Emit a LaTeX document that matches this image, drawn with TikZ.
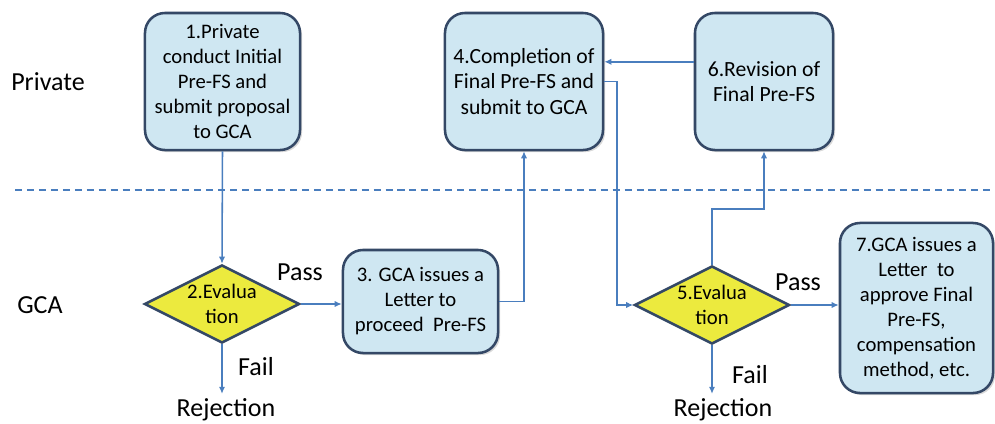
\documentclass[tikz,border=0pt]{standalone}
\usepackage{fontspec}
\setmainfont{Carlito}
\usepackage{color}
\definecolor{boxblue}{RGB}{207,231,242}
\definecolor{boxedge}{RGB}{52,72,102}
\definecolor{evalyellow}{RGB}{236,234,62}
\definecolor{flowblue}{RGB}{74,126,190}
\usepackage{tikz}
\usetikzlibrary{arrows.meta}
\usetikzlibrary{shapes.geometric}
\usetikzlibrary{shadows}
\newcommand{\widthstep}{3.875cm}
\newcommand{\heightstep}{3.425cm}
\tikzset{
    common/.style={draw=boxedge, line width=1.8pt, align=center, font=\fontsize{14.7}{17.8}\selectfont},
    stepbox/.style={common, rectangle, rounded corners=0.5cm, fill=boxblue, inner sep=2pt,
        drop shadow={shadow xshift=1.5pt, shadow yshift=-1.5pt, opacity=0.3}},
    bigstep/.style={stepbox, font=\fontsize{15.4}{18.2}\selectfont},
    evaluation/.style={common, diamond, aspect=2, fill=evalyellow, inner sep=0pt,
        minimum width=\widthstep, minimum height=1.95cm},
    lane/.style={font=\fontsize{18.5}{22}\selectfont},
    flow/.style={-{Latex[length=5pt,width=4.5pt]}, flowblue, line width=1.1pt},
    divider/.style={flowblue, line width=1.1pt, dash pattern=on 5pt off 3.5pt}
}

\begin{document}
\begin{tikzpicture}[x=0.025cm, y=-0.025cm]
                \useasboundingbox (0,0) rectangle (995,423);

                \node[lane] (private) at (48,82) {Private};
                \node[lane] (gca) at (40,305) {GCA};

                \coordinate (laneL) at (15,190);
                \coordinate (laneR) at (995,190);
                \draw[divider] (laneL) -- (laneR);

                \node[stepbox, minimum width=\widthstep, minimum height=\heightstep] (b1) at (222.5,81.5)
                    {1.Private\\conduct Initial\\Pre-FS and\\submit proposal\\to GCA};
                \node[bigstep, minimum width=3.95cm, minimum height=\heightstep] (b4) at (524,81.5)
                    {4.Completion of\\Final Pre-FS and\\submit to GCA};
                \node[bigstep, minimum width=3.45cm, minimum height=\heightstep] (b6) at (764,81.5)
                    {6.Revision of\\Final Pre-FS};
                \node[evaluation] (d2) at (222,304) {2.Evalua\\tion};
                \node[stepbox, minimum width=\widthstep, minimum height=2.575cm] (b3) at (420.5,301.5)
                    {3. GCA issues a\\Letter to\\proceed~ Pre-FS};
                \node[evaluation] (d5) at (712,305) {5.Evalua\\tion};
                \node[stepbox, minimum width=3.825cm, minimum height=4.25cm] (b7) at (916.5,308)
                    {7.GCA issues a\\Letter~ to\\approve Final\\Pre-FS,\\compensation\\method, etc.};

                \node[lane] (pass2) at (300,272) {Pass};
                \node[lane] (pass5) at (798,282) {Pass};
                \node[lane] (fail2) at (256,367) {Fail};
                \node[lane] (fail5) at (750,375) {Fail};
                \node[lane] (reject2) at (226,410) {Rejection};
                \node[lane] (reject5) at (723,410) {Rejection};

                \coordinate (jog4) at (617,0);
                \coordinate (jog5) at (0,209);

                \draw[flow] (b1.south) -- (d2.north);
                \draw[flow] (d2.east) -- (d2.east -| b3.west);
                \draw[flow] (b3.east) -| (b4.south);
                \draw[flow] (b4.east) -- (b4.east -| jog4) |- (d5.west);
                \draw[flow] (d5.north) |- (jog5 -| b6.south) -- (b6.south);
                \draw[flow] ([yshift=14pt]b6.west) -- ([yshift=14pt]b4.east);
                \draw[flow] (d5.east) -- (d5.east -| b7.west);
                \draw[flow] (d2.south) -- (d2.south |- reject2.north);
                \draw[flow] (d5.south) -- (d5.south |- reject5.north);
            \end{tikzpicture}
\end{document}
